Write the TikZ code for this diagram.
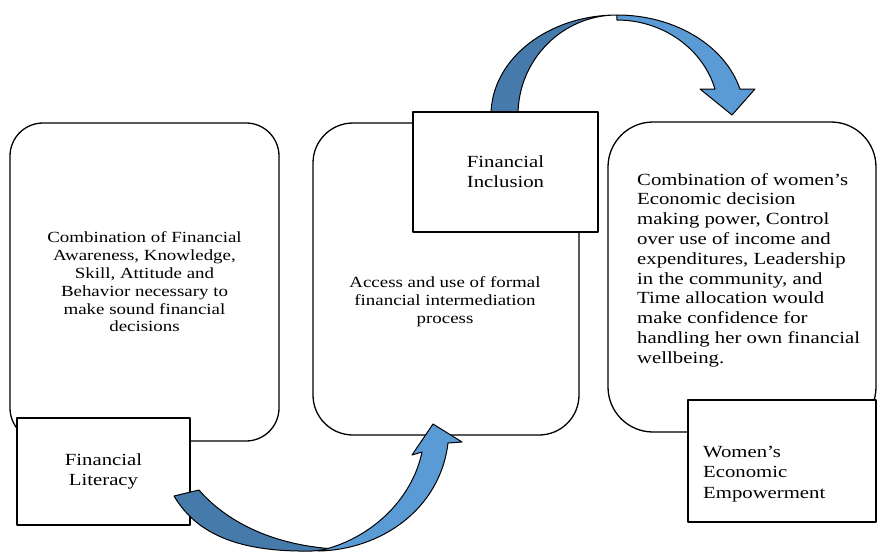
\documentclass[tikz,border=0pt]{standalone}
\usepackage{fontspec}
\setmainfont{Liberation Serif}[FakeStretch=1.22]
\usetikzlibrary{positioning}
\definecolor{arrowdark}{RGB}{70,122,170}
\definecolor{arrowlight}{RGB}{91,155,213}
\begin{document}
\begin{tikzpicture}[x=1pt,y=1pt,line join=round,
	roundbox/.style={draw,line width=1.3pt,fill=white,rounded corners=#1,inner sep=0pt,align=center},
	tagbox/.style={draw,line width=1.3pt,fill=white,inner sep=0pt,align=center,font=\fontsize{17pt}{20pt}\selectfont},
	bandshape/.style={draw=black,line width=1pt,fill=#1}]
	\useasboundingbox (0,0) rectangle (878,-552);
	% rounded description boxes
	\node[roundbox=33pt,minimum width=269pt,minimum height=318pt,font=\fontsize{15.5pt}{17.8pt}\selectfont] (litbox) at (144.5,-282)
		{Combination of Financial\\Awareness, Knowledge,\\Skill, Attitude and\\Behavior necessary to\\make sound financial\\decisions};
	\node[roundbox=40pt,minimum width=266pt,minimum height=312pt] (incbox) at (446,-279) {};
	\node[roundbox=45pt,minimum width=268pt,minimum height=310pt] (empbox) at (742,-277) {};
	\node[align=center,inner sep=0pt,font=\fontsize{15.5pt}{18.3pt}\selectfont] (inctext) at (445,-301.5)
		{Access and use of formal\\financial intermediation\\process};
	\node[align=left,anchor=north west,inner sep=0pt,font=\fontsize{17pt}{19.8pt}\selectfont] (emptext) at (637,-173)
		{Combination of women’s\\Economic decision\\making power, Control\\over use of income and\\expenditures, Leadership\\in the community, and\\Time allocation would\\make confidence for\\handling her own financial\\wellbeing.};
	% upper curved arrow
	\filldraw[bandshape=arrowdark] (491,-115) arc[start angle=180,end angle=90,x radius=126pt,y radius=100pt]
		arc[start angle=90,end angle=180,x radius=99pt,y radius=100pt] -- cycle;
	\filldraw[bandshape=arrowlight] (617,-15) arc[start angle=90,end angle=15,x radius=127.3pt,y radius=100pt]
		-- (755,-89) -- (732,-115) -- (700,-89) -- (715,-89)
		arc[start angle=15.9,end angle=90,x radius=102pt,y radius=95pt] -- cycle;
	% title boxes
	\node[tagbox,minimum width=185pt,minimum height=120pt] (inctag) at (505.5,-172) {Financial\\Inclusion};
	\node[tagbox,minimum width=173pt,minimum height=107pt] (littag) at (103.5,-471.5) {Financial\\Literacy};
	\node[tagbox,minimum width=188pt,minimum height=122pt] (emptag) at (782,-461) {};
	\node[align=left,anchor=north west,inner sep=0pt,font=\fontsize{17pt}{20.8pt}\selectfont] (emptagtext) at (703,-445.5)
		{Women’s\\Economic\\Empowerment};
	% lower curved arrow
	\filldraw[bandshape=arrowdark] (174,-496) .. controls (200,-540) and (250,-552) .. (312,-551)
		-- (335,-549) .. controls (270,-545) and (225,-520) .. (199,-490) -- cycle;
	\filldraw[bandshape=arrowlight] (318,-551) .. controls (380,-550) and (440,-510) .. (448,-443)
		-- (462,-442) -- (433,-424) -- (412,-455) -- (422,-452)
		.. controls (412,-500) and (370,-540) .. (318,-551) -- cycle;
\end{tikzpicture}
\end{document}
